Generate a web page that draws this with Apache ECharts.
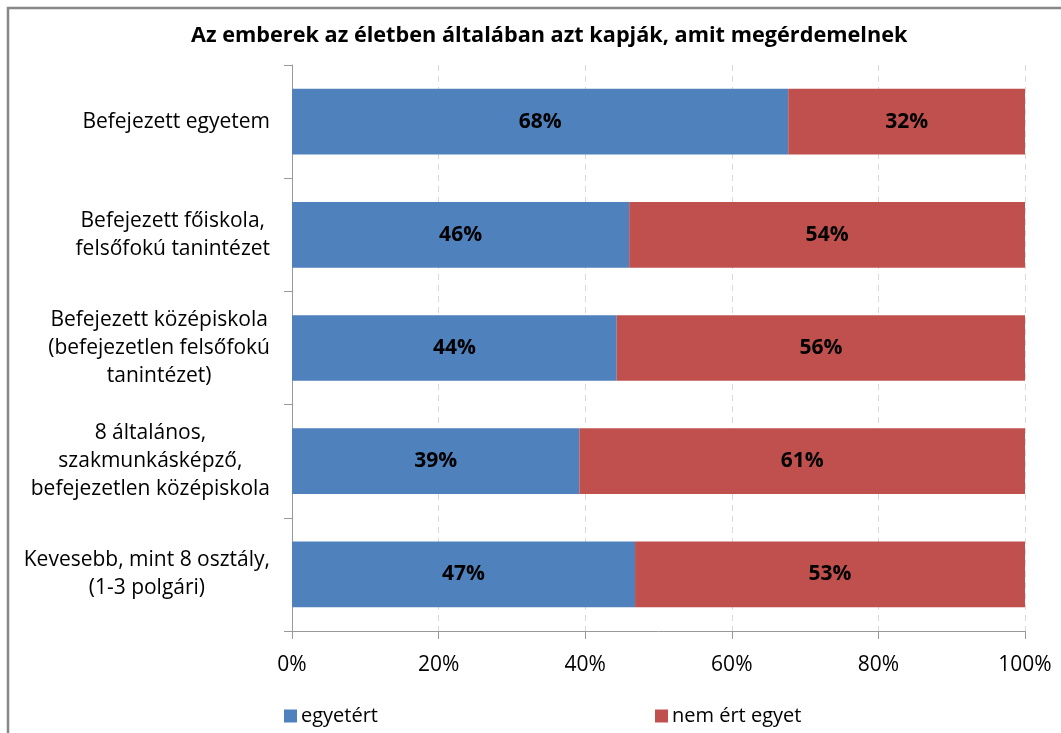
<!DOCTYPE html>
<html>
<head>
<meta charset="utf-8">
<script src="https://cdn.jsdelivr.net/npm/echarts@6/dist/echarts.min.js"></script>
<style>html,body{margin:0;padding:0;background:#fff;}#c{width:1061px;height:733px;}</style>
</head>
<body>
<div id="c"></div>
<script>
const titleText = 'Az emberek az életben általában azt kapják, amit megérdemelnek';
const categories = [
  'Befejezett egyetem',
  'Befejezett főiskola,\nfelsőfokú tanintézet',
  'Befejezett középiskola\n(befejezetlen felsőfokú\ntanintézet)',
  '8 általános,\nszakmunkásképző,\nbefejezetlen középiskola',
  'Kevesebb, mint 8 osztály,\n(1-3 polgári)'
];
const seriesNames = ['egyetért', 'nem ért egyet'];
const agree = [67.7, 46.0, 44.3, 39.2, 46.8];
const disagree = [32.3, 54.0, 55.7, 60.8, 53.2];
const xTicks = [0, 20, 40, 60, 80, 100];

const FONT = '"Open Sans", sans-serif';
const chart = echarts.init(document.getElementById('c'));
const labelStyle = {
  show: true, position: 'inside', color: '#000', fontWeight: 'bold',
  fontSize: 21, fontFamily: FONT,
  formatter: p => Math.round(p.value) + '%'
};
chart.setOption({
  animation: false,
  textStyle: { fontFamily: FONT },
  title: {
    text: titleText, left: 186, top: 20,
    textStyle: { fontSize: 21.7, fontWeight: 'bold', color: '#000', fontFamily: FONT }
  },
  graphic: [{
    type: 'rect', shape: { x: 8, y: 8, width: 1100, height: 800 },
    style: { fill: 'none', stroke: '#888', lineWidth: 2.5 }, silent: true, z: 100
  }],
  legend: {
    left: 279, top: 701, itemWidth: 13, itemHeight: 13, itemGap: 277,
    icon: 'rect',
    textStyle: { fontSize: 20, color: '#000', fontFamily: FONT, padding: [0, 0, 0, -1] },
    data: seriesNames
  },
  grid: { left: 292, right: 36, top: 65, bottom: 102, containLabel: false },
  xAxis: {
    type: 'value', min: 0, max: 100, interval: 20,
    axisLine: { show: true, lineStyle: { color: '#999' } },
    axisTick: { show: true, length: 8, lineStyle: { color: '#999' } },
    splitLine: { show: true, lineStyle: { color: '#d9d9d9', type: [6, 5] } },
    axisLabel: { margin: 24, fontSize: 21, color: '#000', fontFamily: FONT,
      formatter: v => (xTicks.includes(v) ? v + '%' : '') }
  },
  yAxis: {
    type: 'category', data: categories, inverse: true,
    axisLine: { show: true, lineStyle: { color: '#999' } },
    axisTick: { show: true, length: 8, lineStyle: { color: '#999' } },
    axisLabel: {
      margin: 22, color: '#000', fontSize: 21, fontFamily: FONT, lineHeight: 28,
      formatter: v => v.split('\n').map(s => '{a|' + s + '}').join('\n'),
      rich: { a: { align: 'center', fontSize: 21, lineHeight: 28, color: '#000', fontFamily: FONT } }
    }
  },
  series: [
    { name: seriesNames[0], type: 'bar', stack: 's', data: agree, barCategoryGap: '42%',
      itemStyle: { color: '#4F81BD' }, label: labelStyle },
    { name: seriesNames[1], type: 'bar', stack: 's', data: disagree, barCategoryGap: '42%',
      itemStyle: { color: '#C0504D' }, label: labelStyle }
  ]
});
</script>
</body>
</html>
